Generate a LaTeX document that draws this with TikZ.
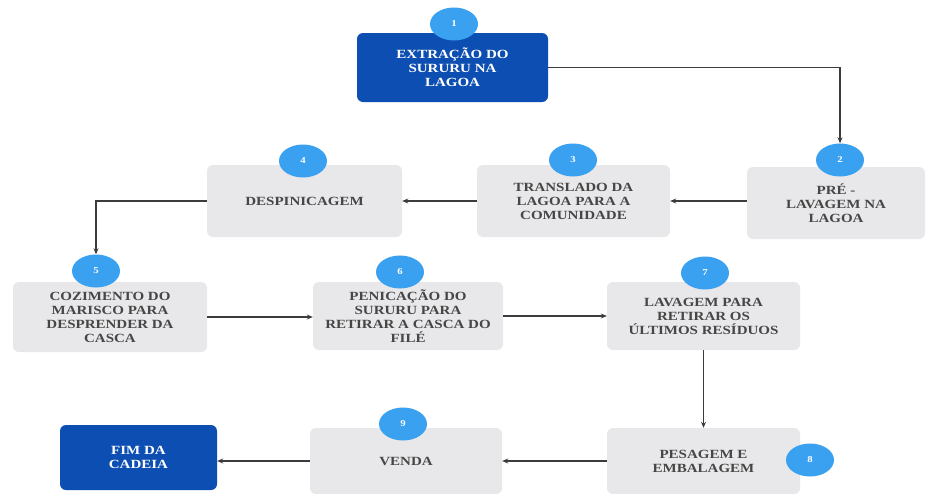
\documentclass[tikz,border=0pt]{standalone}
\usepackage{fontspec}
\setmainfont{Liberation Serif}[FakeStretch=1.2]
\usetikzlibrary{shapes.geometric,arrows.meta}
\definecolor{darkblue}{RGB}{12,78,178}
\definecolor{boxgray}{RGB}{232,232,234}
\definecolor{badge}{RGB}{58,160,240}
\definecolor{txtgray}{RGB}{70,70,70}
\definecolor{linegray}{RGB}{60,60,60}
\begin{document}
\begin{tikzpicture}[x=1pt,y=-1pt,
  stepbox/.style={draw=none,fill=boxgray,rounded corners=6pt,align=center,text=txtgray,
    font=\fontsize{12.5}{14}\selectfont\bfseries,inner sep=2pt},
  bluebox/.style={stepbox,fill=darkblue,text=white},
  numbadge/.style={ellipse,fill=badge,minimum width=48pt,minimum height=33pt,inner sep=0pt,
    text=white,font=\fontsize{9}{9}\selectfont\bfseries},
  flow/.style={draw=linegray,line width=1.3pt,-{Stealth[length=6pt,width=5pt]}}]
\useasboundingbox (0,0) rectangle (928,493);
\fill[white] (0,0) rectangle (928,493);
% boxes
\node[bluebox,minimum width=191pt,minimum height=69pt] (b1) at (452.5,67.5) {EXTRAÇÃO DO\\SURURU NA\\LAGOA};
\node[stepbox,minimum width=178pt,minimum height=72pt] (b2) at (836,203) {PRÉ -\\LAVAGEM NA\\LAGOA};
\node[stepbox,minimum width=193pt,minimum height=72pt] (b3) at (573.5,201) {TRANSLADO DA\\LAGOA PARA A\\COMUNIDADE};
\node[stepbox,minimum width=195pt,minimum height=72pt] (b4) at (304.5,201) {DESPINICAGEM};
\node[stepbox,minimum width=194pt,minimum height=70pt] (b5) at (110,317) {COZIMENTO DO\\MARISCO PARA\\DESPRENDER DA\\CASCA};
\node[stepbox,minimum width=190pt,minimum height=68pt] (b6) at (408,316) {PENICAÇÃO DO\\SURURU PARA\\RETIRAR A CASCA DO\\FILÉ};
\node[stepbox,minimum width=193pt,minimum height=68pt] (b7) at (703.5,316) {LAVAGEM PARA\\RETIRAR OS\\ÚLTIMOS RESÍDUOS};
\node[stepbox,minimum width=193pt,minimum height=66pt] (b8) at (703.5,461) {PESAGEM E\\EMBALAGEM};
\node[stepbox,minimum width=192pt,minimum height=66pt] (b9) at (406,461) {VENDA};
\node[bluebox,minimum width=157pt,minimum height=65pt] (fim) at (138.5,457.5) {FIM DA\\CADEIA};
% badges
\node[numbadge] (c1) at (454,24) {1};
\node[numbadge] (c2) at (840,160) {2};
\node[numbadge] (c3) at (573,160) {3};
\node[numbadge] (c4) at (303,161) {4};
\node[numbadge] (c5) at (96,271) {5};
\node[numbadge] (c6) at (400,272) {6};
\node[numbadge] (c7) at (705,273) {7};
\node[numbadge] (c8) at (810,460) {8};
\node[numbadge] (c9) at (403,424) {9};
% connectors
\draw[flow] (b1.east) -| (c2.north);
\draw[flow] (b2.west |- b3.east) -- (b3.east);
\draw[flow] (b3.west) -- (b4.east);
\draw[flow] (b4.west) -| (c5.north);
\draw[flow] (b5.east) -- (b6.west |- b5.east);
\draw[flow] (b6.east) -- (b7.west);
\draw[flow] (b7.south) -- (b8.north);
\draw[flow] (b8.west) -- (b9.east);
\draw[flow] (b9.west) -- (b9.west -| fim.east);
\end{tikzpicture}
\end{document}
